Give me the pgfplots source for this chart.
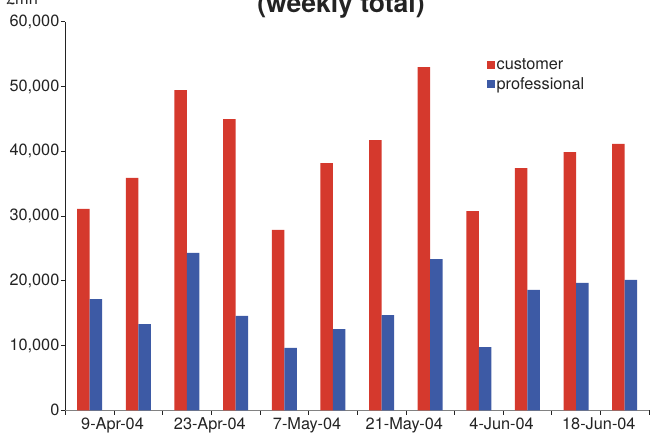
\documentclass[border=0pt]{standalone}
\usepackage{fontspec}
\setmainfont{TeX Gyre Heros}
\usepackage{pgfplots}
\pgfplotsset{compat=1.18}
\definecolor{custred}{RGB}{213,57,45}
\definecolor{profblue}{RGB}{61,90,165}
\definecolor{txt}{RGB}{35,35,35}
\definecolor{xline}{RGB}{130,130,130}

\begin{document}
\begin{tikzpicture}
% page frame: the chart is cropped at the top edge
\useasboundingbox (-65.4pt,-22.7pt) rectangle (585.6pt,410.3pt);
\clip (-65.4pt,-22.7pt) rectangle (585.6pt,410.3pt);
\begin{axis}[
  width=583.6pt, height=388.6pt, scale only axis,
  xmin=-0.5, xmax=11.5, ymin=0, ymax=60000,
  enlargelimits=false,
  axis lines=left,
  axis line style={-},
  x axis line style={draw=xline, line width=0.9pt},
  y axis line style={draw=txt, line width=0.6pt},
  tick style={draw=txt, line width=0.6pt},
  tick align=outside, major tick length=4.5pt,
  ytick={0,10000,20000,30000,40000,50000,60000},
  scaled y ticks=false,
  /pgf/number format/.cd, 1000 sep={,}, assume math mode=true, /pgfplots/.cd,
  xtick={-0.5,0.5,1.5,2.5,3.5,4.5,5.5,6.5,7.5,8.5,9.5,10.5,11.5},
  xticklabels={,9-Apr-04,,23-Apr-04,,7-May-04,,21-May-04,,4-Jun-04,,18-Jun-04,},
  ticklabel style={font=\fontsize{16.3}{19}\selectfont, text=txt},
  yticklabel style={xshift=2pt},
  xticklabel style={yshift=0.3pt, xshift=-1.5pt},
  ybar=0pt, bar width=12.5pt,
  legend style={draw=none, fill=none, at={(0.717,0.915)}, anchor=north west,
    font=\fontsize{16.3}{19}\selectfont, text=txt, row sep=2pt,
    /tikz/every even column/.append style={column sep=4pt}},
  legend cell align=left,
  legend image code/.code={\fill[#1] (0pt,-3.8pt) rectangle (7.6pt,3.8pt);},
]
\addplot[fill=custred, draw=none] coordinates {
  (0,31100) (1,35900) (2,49450) (3,44970) (4,27840) (5,38180)
  (6,41730) (7,53000) (8,30770) (9,37410) (10,39880) (11,41120)};
\addplot[fill=profblue, draw=none] coordinates {
  (0,17180) (1,13320) (2,24290) (3,14560) (4,9620) (5,12550)
  (6,14710) (7,23350) (8,9770) (9,18580) (10,19660) (11,20120)};
\legend{customer, professional}
\end{axis}
\node[anchor=base, text=txt, font=\bfseries\fontsize{26.5}{30}\selectfont]
  at (275.6pt,397.3pt) {(weekly total)};
\node[anchor=base, text=txt, font=\fontsize{16.3}{19}\selectfont]
  at (-43.4pt,405.3pt) {£mn};
\end{tikzpicture}
\end{document}
